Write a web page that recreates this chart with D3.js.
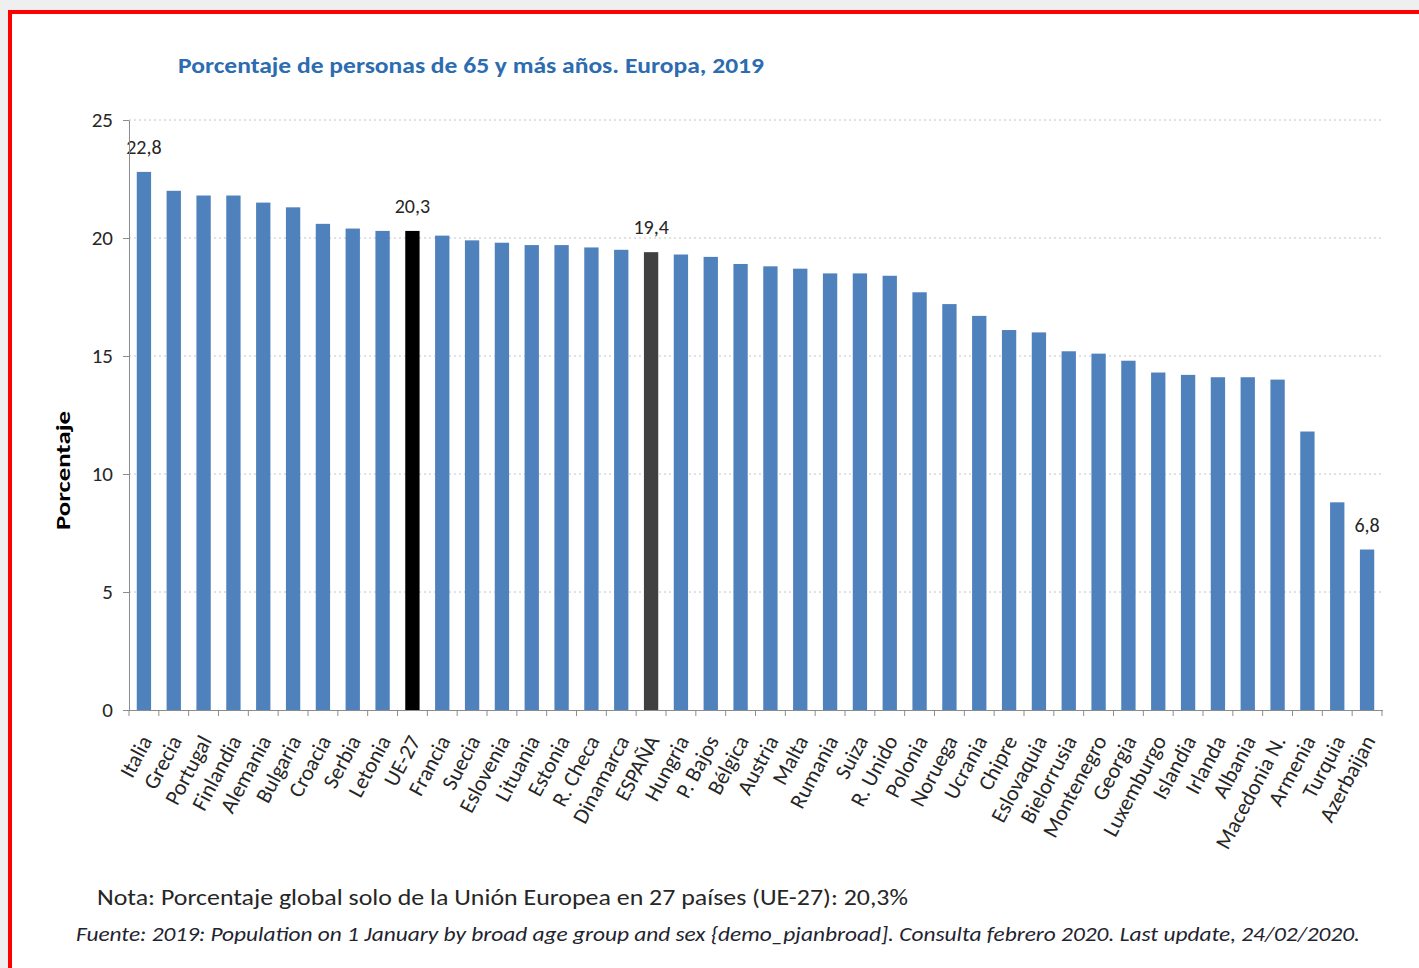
<!DOCTYPE html>
<html>
<head>
<meta charset="utf-8">
<script src="https://cdn.jsdelivr.net/npm/d3@7"></script>
<style>
    body { margin: 0; background: #efefef; }
    svg { display: block; }
    text { font-family: Carlito, Lato, sans-serif; }
    .grid line { stroke: #c4c4c4; stroke-dasharray: 2,3; }
    .axis path, .axis line { stroke: #8c8c8c; }
    .axis text { fill: #262626; }
</style>
</head>
<body>
<svg id="chart" width="1419" height="968"></svg>
<script>

let countries = ["Italia", "Grecia", "Portugal", "Finlandia", "Alemania", "Bulgaria", "Croacia", "Serbia",
    "Letonia", "UE-27", "Francia", "Suecia", "Eslovenia", "Lituania", "Estonia", "R. Checa", "Dinamarca",
    "ESPAÑA", "Hungria", "P. Bajos", "Bélgica", "Austria", "Malta", "Rumania", "Suiza", "R. Unido",
    "Polonia", "Noruega", "Ucrania", "Chipre", "Eslovaquia", "Bielorrusia", "Montenegro", "Georgia",
    "Luxemburgo", "Islandia", "Irlanda", "Albania", "Macedonia N.", "Armenia", "Turquia", "Azerbaijan"];

let values = [22.8, 22.0, 21.8, 21.8, 21.5, 21.3, 20.6, 20.4,
    20.3, 20.3, 20.1, 19.9, 19.8, 19.7, 19.7, 19.6, 19.5,
    19.4, 19.3, 19.2, 18.9, 18.8, 18.7, 18.5, 18.5, 18.4,
    17.7, 17.2, 16.7, 16.1, 16.0, 15.2, 15.1, 14.8,
    14.3, 14.2, 14.1, 14.1, 14.0, 11.8, 8.8, 6.8];

let yTicks = [0, 5, 10, 15, 20, 25];

// bars that get a value label on top
let labelled = ["Italia", "UE-27", "ESPAÑA", "Azerbaijan"];

let svg = d3.select("#chart");

// frame
svg.append("rect")
    .attr("x", 10).attr("y", 12)
    .attr("width", 1430).attr("height", 980)
    .attr("fill", "#fff")
    .attr("stroke", "#ff0000")
    .attr("stroke-width", 4);

let x = d3.scaleBand()
    .domain(countries)
    .range([129, 1382])
    .paddingInner(0.52)
    .paddingOuter(0.26);

let y = d3.scaleLinear()
    .domain([0, 25])
    .range([710, 120]);

// gridlines
svg.append("g")
    .attr("class", "grid")
    .selectAll("line")
    .data(yTicks.filter(d => d > 0))
    .enter()
    .append("line")
    .attr("x1", 129)
    .attr("x2", 1382)
    .attr("y1", d => y(d))
    .attr("y2", d => y(d));

function barColor(name)
{
    if(name == "UE-27") return "#000000";
    if(name == "ESPAÑA") return "#404040";
    return "#4f81bd";
}

let data = countries.map((c, i) => ({name: c, value: values[i]}));

svg.append("g")
    .selectAll("rect")
    .data(data)
    .enter()
    .append("rect")
    .attr("x", d => x(d.name))
    .attr("y", d => y(d.value))
    .attr("width", x.bandwidth())
    .attr("height", d => y(0) - y(d.value))
    .attr("fill", d => barColor(d.name));

// value labels
svg.append("g")
    .selectAll("text")
    .data(data.filter(d => labelled.includes(d.name)))
    .enter()
    .append("text")
    .attr("x", d => x(d.name) + x.bandwidth() / 2)
    .attr("y", d => y(d.value) - 18)
    .attr("text-anchor", "middle")
    .style("font-size", "20px")
    .style("fill", "#262626")
    .text(d => String(d.value.toFixed(1)).replace(".", ","));

// y axis
let yAxis = svg.append("g")
    .attr("class", "axis")
    .attr("transform", "translate(129,0)")
    .call(d3.axisLeft(y).tickValues(yTicks).tickSize(6).tickSizeOuter(0).tickPadding(10));

yAxis.selectAll("text").style("font-size", "21px");

// x axis
let xAxis = svg.append("g")
    .attr("class", "axis")
    .attr("transform", "translate(0,710)")
    .call(d3.axisBottom(x).tickSize(0).tickSizeOuter(0));

xAxis.select(".domain").attr("d", "M124,0.5H1383");
xAxis.selectAll("text")
    .attr("x", 0)
    .attr("y", 0)
    .attr("dy", "0.35em")
    .attr("text-anchor", "end")
    .attr("transform", "translate(2,27) rotate(-62)")
    .style("font-size", "22px");

// tick marks between categories
let boundaries = countries.map(c => x(c) - x.step() * x.paddingInner() / 2);
boundaries.push(x(countries[countries.length - 1]) + x.bandwidth() + x.step() * x.paddingInner() / 2);

xAxis.selectAll(".sep")
    .data(boundaries)
    .enter()
    .append("line")
    .attr("class", "sep")
    .attr("x1", d => d)
    .attr("x2", d => d)
    .attr("y1", 0)
    .attr("y2", 6)
    .attr("stroke", "#8c8c8c");

// titles
svg.append("text")
    .attr("x", 178)
    .attr("y", 73)
    .attr("textLength", 586)
    .attr("lengthAdjust", "spacingAndGlyphs")
    .style("font-size", "22px")
    .style("font-weight", "bold")
    .style("fill", "#2c6cb0")
    .text("Porcentaje de personas de 65 y más años. Europa, 2019");

svg.append("text")
    .attr("transform", "translate(70,471) rotate(-90)")
    .attr("x", -59)
    .attr("textLength", 119)
    .attr("lengthAdjust", "spacingAndGlyphs")
    .style("font-size", "21px")
    .style("font-weight", "bold")
    .style("fill", "#000")
    .text("Porcentaje");

svg.append("text")
    .attr("x", 97)
    .attr("y", 905)
    .attr("textLength", 811)
    .attr("lengthAdjust", "spacingAndGlyphs")
    .style("font-size", "22px")
    .style("fill", "#262626")
    .text("Nota: Porcentaje global solo de la Unión Europea en 27 países (UE-27): 20,3%");

svg.append("text")
    .attr("x", 76)
    .attr("y", 941)
    .attr("textLength", 1284)
    .attr("lengthAdjust", "spacingAndGlyphs")
    .style("font-size", "20px")
    .style("font-style", "italic")
    .style("fill", "#1f2430")
    .text("Fuente: 2019: Population on 1 January by broad age group and sex {demo_pjanbroad].  Consulta febrero 2020. Last update, 24/02/2020.");

</script>
</body>
</html>
